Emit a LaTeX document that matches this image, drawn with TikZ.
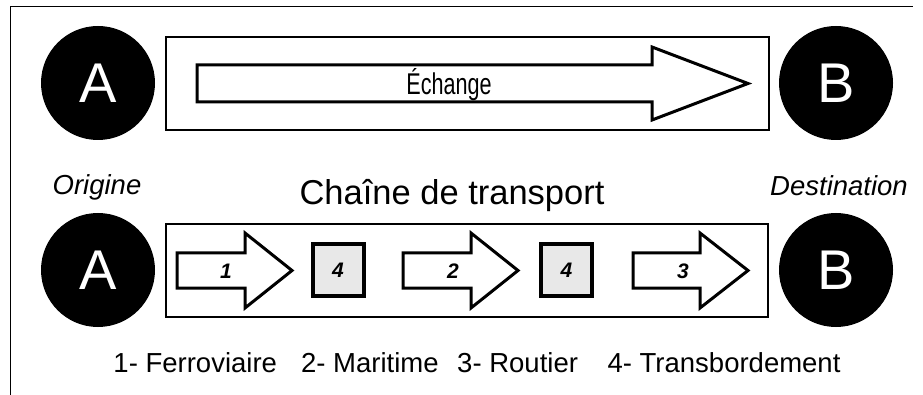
\documentclass[tikz,border=0pt]{standalone}
\usepackage{fontspec}
\setmainfont{Liberation Sans}
\newcommand\blockarrow[7]{% x0, xb, tip, yc, shafthalf, headhalf, name
  \draw[fatarrow] (#1,#4-#5) -- (#2,#4-#5) -- (#2,#4-#6) -- (#3,#4) -- (#2,#4+#6) -- (#2,#4+#5) -- (#1,#4+#5) -- cycle;
  \coordinate (#7) at ({(#1+#3)/2},#4);
}
\begin{document}
\begin{tikzpicture}[x=1pt,y=-1pt,
  frame/.style={line width=1pt},
  endpoint/.style={circle,fill=black,minimum size=114pt,inner sep=0pt,text=white,font=\fontsize{56}{56}\selectfont},
  box/.style={draw,line width=1.2pt,inner sep=0pt},
  fatarrow/.style={draw,line width=3pt,fill=white,line join=miter},
  tbox/.style={draw,line width=4pt,fill=black!9,minimum size=51pt,inner sep=0pt,font=\fontsize{21}{21}\selectfont\bfseries\itshape},
  numlab/.style={font=\fontsize{21}{21}\selectfont\bfseries\itshape},
  italab/.style={font=\fontsize{27.5}{27.5}\selectfont\itshape},
]
\useasboundingbox (0,0) rectangle (923,395);
\coordinate (fb) at (10.5,395);
\coordinate (ftl) at (10.5,6.5);
\coordinate (ftr) at (913,6.5);
\draw[frame] (fb) -- (ftl) -- (ftr);

% top row
\node[endpoint] (A1) at (98,83) {A};
\node[endpoint] (B1) at (836,83) {B};
\node[box,minimum width=603pt,minimum height=93pt] (ex) at (467.5,83.5) {};
\blockarrow{197}{652}{748}{83.5}{18.5}{36.5}{exarrow}
\node[font=\fontsize{30}{30}\selectfont] (exlab) at (449,85) {\scalebox{0.72}[1]{Échange}};

% labels
\node[italab] (orig) at (97,187) {Origine};
\node[italab] (dest) at (839,186) {Destination};
\node[font=\fontsize{34.5}{34.5}\selectfont] (chain) at (452,196) {Chaîne de transport};

% bottom row
\node[endpoint] (A2) at (98,270) {A};
\node[endpoint] (B2) at (836,270) {B};
\node[box,minimum width=602pt,minimum height=93pt] (tr) at (467,270.5) {};
\blockarrow{177}{245}{292}{270.5}{17.5}{37.5}{m1}
\node[numlab] (l1) at (226,271) {1};
\node[tbox] (t1) at (338,270) {4};
\blockarrow{403}{471}{518}{270.5}{17.5}{37.5}{m2}
\node[numlab] (l2) at (453,271) {2};
\node[tbox] (t2) at (566.5,270) {4};
\blockarrow{633}{700}{748}{270.5}{17.5}{37.5}{m3}
\node[numlab] (l3) at (683,271) {3};

\node[font=\fontsize{27.5}{27.5}\selectfont] (legend) at (477,363) {1- Ferroviaire\hspace{0.6em} 2- Maritime\hspace{0.4em} 3- Routier\hspace{0.8em} 4- Transbordement};
\end{tikzpicture}
\end{document}
